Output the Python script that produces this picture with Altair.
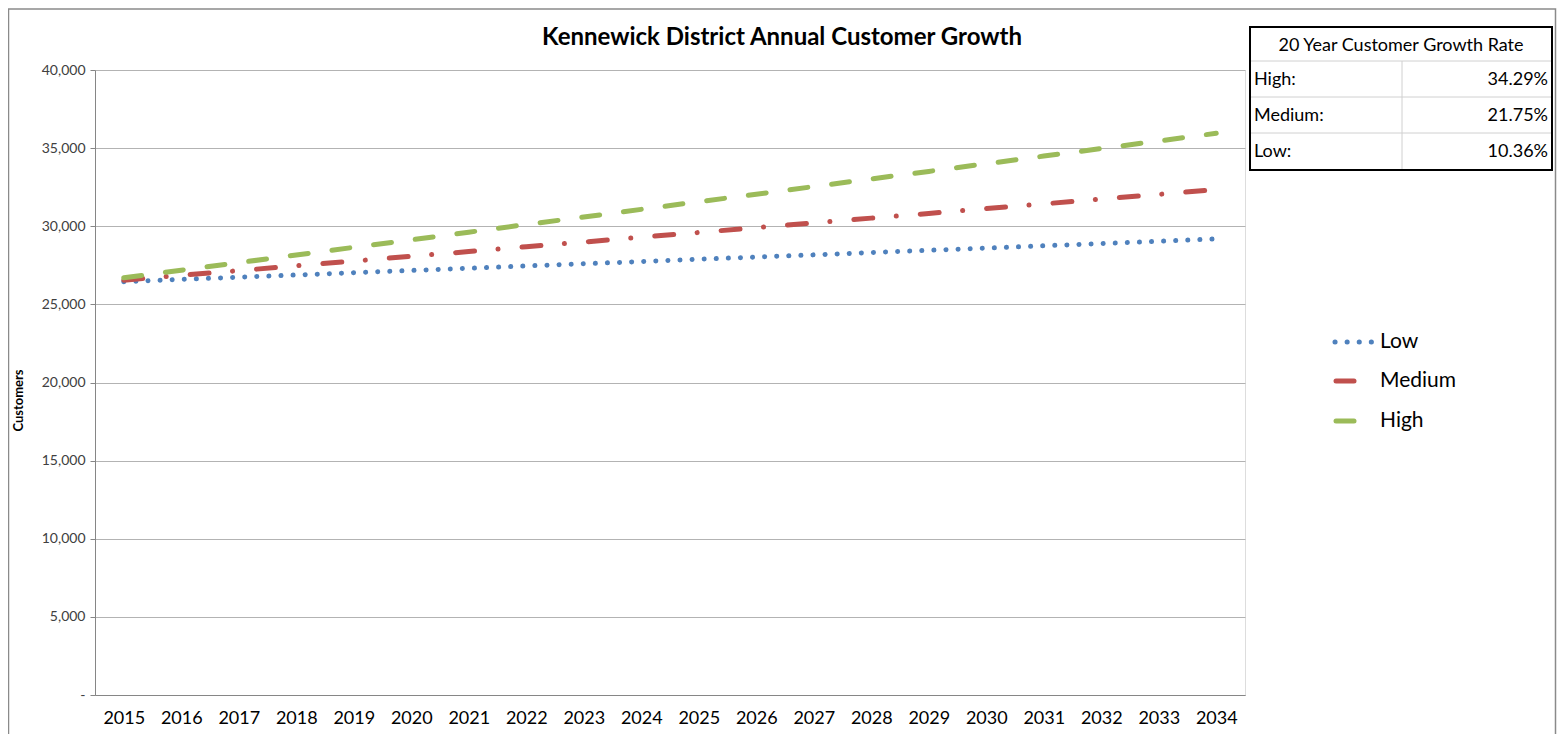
import altair as alt
import pandas as pd

years = [str(y) for y in range(2015, 2035)]
low = [26450, 26600, 26740, 26880, 27030, 27170, 27310, 27460, 27600, 27740,
       27890, 28030, 28170, 28320, 28460, 28600, 28750, 28890, 29040, 29190]
medium = [26550, 26860, 27160, 27470, 27770, 28080, 28380, 28690, 28990, 29300,
          29600, 29910, 30210, 30520, 30820, 31130, 31430, 31740, 32040, 32350]
high = [26700, 27190, 27670, 28160, 28650, 29130, 29620, 30110, 30590, 31080,
        31570, 32050, 32540, 33030, 33510, 34000, 34490, 34970, 35460, 35950]

series_names = ["Low", "Medium", "High"]
series_colors = ["#4f81bd", "#c0504d", "#9bbb59"]
series_dash = [[0.1, 12], [19, 23.5, 0.1, 24], [18, 24]]

table_header = "20 Year Customer Growth Rate"
table_labels = ["High:", "Medium:", "Low:"]
table_values = ["34.29%", "21.75%", "10.36%"]

title_text = "Kennewick District Annual Customer Growth"

rows = []
for name, vals in zip(series_names, [low, medium, high]):
    for yr, v in zip(years, vals):
        rows.append({"year": yr, "series": name, "customers": v})
df = pd.DataFrame(rows)

FONT = "Lato"

x_enc = alt.X("year:O", scale=alt.Scale(type="point", padding=0.5),
              axis=alt.Axis(title=None, labelAngle=0, labelFontSize=18, labelFont=FONT,
                            labelColor="black", ticks=False, domainColor="#868686",
                            labelPadding=14, grid=False))
y_enc = alt.Y("customers:Q", scale=alt.Scale(domain=[0, 40000], nice=False),
              axis=alt.Axis(values=list(range(0, 40001, 5000)),
                            labelExpr="datum.value == 0 ? '-\u2007\u2007' : format(datum.value, ',')",
                            labelFontSize=14, labelFont=FONT, labelColor="#404040",
                            tickSize=5, tickColor="#868686", domainColor="#868686",
                            gridColor="#b3b3b3", labelPadding=5,
                            title="Customers", titleFontSize=13, titleFont=FONT,
                            titleFontWeight="bold", titleColor="black",
                            titleX=-77, titleY=330, titleAngle=270,
                            titleAlign="center", titleBaseline="middle"))

base = alt.Chart(df)
layers = []
for name, col, dash in zip(series_names, series_colors, series_dash):
    layers.append(
        base.transform_filter(alt.datum.series == name)
        .mark_line(color=col, strokeWidth=5, strokeDash=dash, strokeCap="round")
        .encode(x=x_enc, y=y_enc)
    )

dummy = alt.Chart(pd.DataFrame({"a": [0]}))

# outer chart border
layers.append(dummy.mark_rect(fillOpacity=0, stroke="#8a8a8a", strokeWidth=1.5).encode(
    x=alt.value(-86.5), x2=alt.value(1460.5), y=alt.value(-61), y2=alt.value(690)))

# title
layers.append(dummy.mark_text(text=title_text, font=FONT, fontSize=24, fontWeight="bold",
                              color="black", align="center", baseline="middle").encode(
    x=alt.value(687), y=alt.value(-32)))

# growth table
layers.append(dummy.mark_rect(fill="white", stroke="black", strokeWidth=2).encode(
    x=alt.value(1155), x2=alt.value(1457), y=alt.value(-43), y2=alt.value(100)))
for yv in [-9, 27, 63]:
    layers.append(dummy.mark_rule(color="#d0d0d0", strokeWidth=1).encode(
        x=alt.value(1156), x2=alt.value(1456), y=alt.value(yv)))
layers.append(dummy.mark_rule(color="#d0d0d0", strokeWidth=1).encode(
    x=alt.value(1307), y=alt.value(-9), y2=alt.value(99)))
layers.append(dummy.mark_text(text=table_header, font=FONT, fontSize=18, color="black",
                              align="center", baseline="middle").encode(
    x=alt.value(1306), y=alt.value(-24)))
for i, (lab, val) in enumerate(zip(table_labels, table_values)):
    yy = 10 + 36 * i
    layers.append(dummy.mark_text(text=lab, font=FONT, fontSize=18, color="black",
                                  align="left", baseline="middle").encode(
        x=alt.value(1159), y=alt.value(yy)))
    layers.append(dummy.mark_text(text=val, font=FONT, fontSize=18, color="black",
                                  align="right", baseline="middle").encode(
        x=alt.value(1453), y=alt.value(yy)))

# legend
leg_y = [272, 311, 351]
for name, col, dash, yy in zip(series_names, series_colors, series_dash, leg_y):
    if name == "Low":
        layers.append(dummy.mark_rule(color=col, strokeWidth=5, strokeDash=dash,
                                      strokeCap="round").encode(
            x=alt.value(1240), x2=alt.value(1280), y=alt.value(yy)))
    else:
        layers.append(dummy.mark_rule(color=col, strokeWidth=5, strokeCap="round").encode(
            x=alt.value(1241), x2=alt.value(1259), y=alt.value(yy)))
    layers.append(dummy.mark_text(text=name, font=FONT, fontSize=21, color="black",
                                  align="left", baseline="middle").encode(
        x=alt.value(1285), y=alt.value(yy)))

chart = alt.layer(*layers).properties(
    width=1150, height=625,
    autosize=alt.AutoSizeParams(type="none"),
    padding={"left": 87, "top": 62, "right": 312, "bottom": 39},
).configure_view(stroke="transparent").configure(background="white")

chart.save("out.html", embed_options={"renderer": "svg", "actions": False})
